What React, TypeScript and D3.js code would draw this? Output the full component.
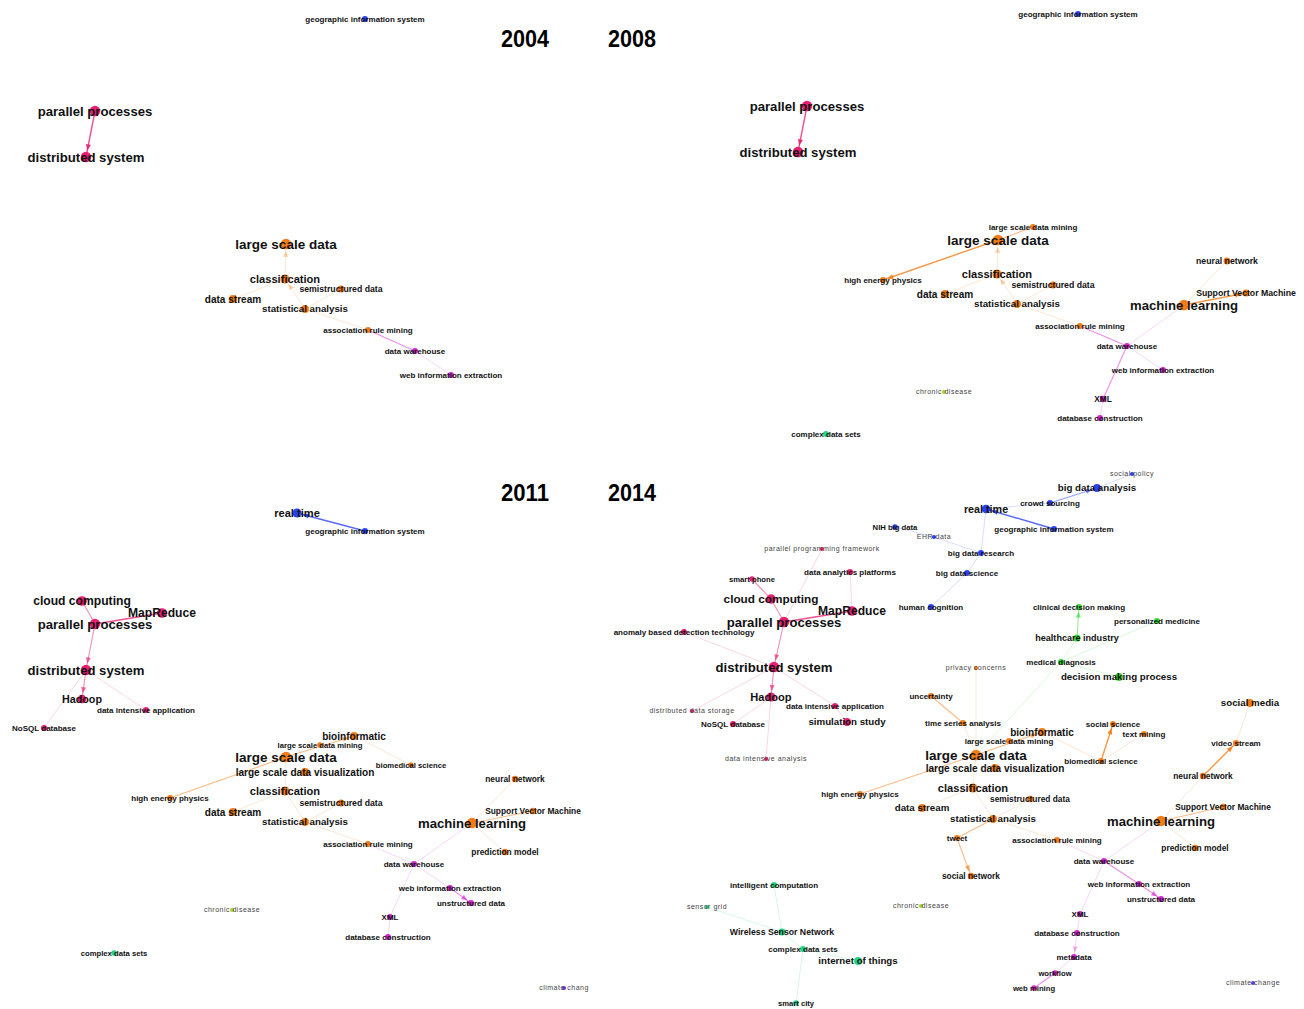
import * as React from 'react';
import * as d3 from 'd3';

// node rows: [keyword, layoutX, layoutY, weight, cluster]
type NodeRow = [string, number, number, number, string];
// link rows: [source, target, strength, directed]
type LinkRow = [string, string, number, number];

const clusters = ['pink', 'orange', 'magenta', 'blue', 'green', 'teal', 'lime', 'purple'];
const clusterColors = ['#ea1f72', '#f47c16', '#d624d0', '#2b42f2', '#35dc35', '#22d582', '#a8d81c', '#6a38e2'];

const years = ['2004', '2008', '2011', '2014'];

const nodes2004: NodeRow[] = [
  ['geographic information system', 365, 19, 4, 'blue'],
  ['parallel processes', 95, 111, 19, 'pink'],
  ['distributed system', 86, 157, 19, 'pink'],
  ['large scale data', 286, 244, 20, 'orange'],
  ['classification', 285, 279, 13, 'orange'],
  ['semistructured data', 341, 289, 6, 'orange'],
  ['data stream', 233, 299, 10, 'orange'],
  ['statistical analysis', 305, 309, 9, 'orange'],
  ['association rule mining', 368, 330, 4, 'orange'],
  ['data warehouse', 415, 351, 4, 'magenta'],
  ['web information extraction', 451, 375, 4, 'magenta'],
];

const links2004: LinkRow[] = [
  ['parallel processes', 'distributed system', 3, 1],
  ['classification', 'large scale data', 1, 1],
  ['classification', 'data stream', 1, 0],
  ['statistical analysis', 'classification', 1, 1],
  ['statistical analysis', 'semistructured data', 1, 0],
  ['statistical analysis', 'association rule mining', 1, 0],
  ['data warehouse', 'association rule mining', 2, 0],
  ['data warehouse', 'web information extraction', 1, 0],
];

const nodes2008: NodeRow[] = [
  ['geographic information system', 426, 14, 4, 'blue'],
  ['parallel processes', 155, 106, 19, 'pink'],
  ['distributed system', 146, 152, 19, 'pink'],
  ['large scale data mining', 381, 227, 4, 'orange'],
  ['large scale data', 346, 240, 20, 'orange'],
  ['high energy physics', 231, 280, 4, 'orange'],
  ['classification', 345, 274, 13, 'orange'],
  ['semistructured data', 401, 285, 6, 'orange'],
  ['data stream', 293, 294, 10, 'orange'],
  ['statistical analysis', 365, 304, 9, 'orange'],
  ['association rule mining', 428, 326, 4, 'orange'],
  ['data warehouse', 475, 346, 4, 'magenta'],
  ['web information extraction', 511, 370, 4, 'magenta'],
  ['XML', 451, 399, 5, 'magenta'],
  ['database construction', 448, 418, 4, 'magenta'],
  ['neural network', 575, 261, 6, 'orange'],
  ['Support Vector Machine', 594, 293, 6, 'orange'],
  ['machine learning', 532, 305, 19, 'orange'],
  ['chronic disease', 292, 392, 1, 'lime'],
  ['complex data sets', 174, 434, 4, 'teal'],
];

const links2008: LinkRow[] = [
  ['parallel processes', 'distributed system', 3, 1],
  ['large scale data', 'high energy physics', 3, 1],
  ['large scale data', 'large scale data mining', 2, 0],
  ['classification', 'large scale data', 1, 1],
  ['classification', 'data stream', 1, 0],
  ['statistical analysis', 'classification', 1, 1],
  ['statistical analysis', 'semistructured data', 1, 0],
  ['statistical analysis', 'association rule mining', 1, 0],
  ['data warehouse', 'association rule mining', 2, 0],
  ['data warehouse', 'machine learning', 1, 0],
  ['data warehouse', 'web information extraction', 1, 0],
  ['data warehouse', 'XML', 2, 0],
  ['XML', 'database construction', 1, 0],
  ['machine learning', 'neural network', 1, 0],
  ['machine learning', 'Support Vector Machine', 3, 1],
];

const nodes2011: NodeRow[] = [
  ['real time', 297, 48, 13, 'blue'],
  ['geographic information system', 365, 66, 4, 'blue'],
  ['cloud computing', 82, 136, 16, 'pink'],
  ['MapReduce', 162, 148, 16, 'pink'],
  ['parallel processes', 95, 159, 19, 'pink'],
  ['distributed system', 86, 205, 19, 'pink'],
  ['Hadoop', 82, 234, 12, 'pink'],
  ['data intensive application', 146, 245, 4, 'pink'],
  ['NoSQL database', 44, 263, 4, 'pink'],
  ['bioinformatic', 354, 271, 10, 'orange'],
  ['large scale data mining', 320, 280, 3, 'orange'],
  ['large scale data', 286, 292, 20, 'orange'],
  ['large scale data visualization', 305, 307, 10, 'orange'],
  ['biomedical science', 411, 300, 3, 'orange'],
  ['neural network', 515, 314, 5, 'orange'],
  ['high energy physics', 170, 333, 4, 'orange'],
  ['classification', 285, 326, 13, 'orange'],
  ['semistructured data', 341, 338, 6, 'orange'],
  ['data stream', 233, 347, 10, 'orange'],
  ['statistical analysis', 305, 357, 9, 'orange'],
  ['Support Vector Machine', 533, 346, 5, 'orange'],
  ['machine learning', 472, 358, 19, 'orange'],
  ['association rule mining', 368, 379, 4, 'orange'],
  ['prediction model', 505, 387, 5, 'orange'],
  ['data warehouse', 414, 399, 4, 'magenta'],
  ['web information extraction', 450, 423, 4, 'magenta'],
  ['unstructured data', 471, 438, 4, 'magenta'],
  ['chronic disease', 232, 445, 1, 'lime'],
  ['XML', 390, 452, 4, 'magenta'],
  ['database construction', 388, 472, 4, 'magenta'],
  ['complex data sets', 114, 488, 3, 'teal'],
  ['climate chang', 564, 523, 1, 'purple'],
];

const links2011: LinkRow[] = [
  ['geographic information system', 'real time', 3, 1],
  ['MapReduce', 'parallel processes', 3, 0],
  ['cloud computing', 'parallel processes', 2, 0],
  ['parallel processes', 'distributed system', 2, 1],
  ['distributed system', 'Hadoop', 2, 1],
  ['distributed system', 'NoSQL database', 1, 0],
  ['distributed system', 'data intensive application', 1, 0],
  ['large scale data', 'bioinformatic', 2, 1],
  ['large scale data', 'high energy physics', 2, 0],
  ['bioinformatic', 'biomedical science', 1, 0],
  ['classification', 'large scale data', 1, 0],
  ['classification', 'data stream', 1, 0],
  ['statistical analysis', 'classification', 1, 0],
  ['statistical analysis', 'semistructured data', 1, 0],
  ['statistical analysis', 'association rule mining', 1, 0],
  ['data warehouse', 'association rule mining', 1, 0],
  ['data warehouse', 'machine learning', 1, 0],
  ['machine learning', 'neural network', 1, 0],
  ['machine learning', 'Support Vector Machine', 2, 0],
  ['machine learning', 'prediction model', 1, 0],
  ['data warehouse', 'web information extraction', 1, 0],
  ['web information extraction', 'unstructured data', 2, 1],
  ['data warehouse', 'XML', 1, 0],
  ['XML', 'database construction', 1, 0],
];

const nodes2014: NodeRow[] = [
  ['social policy', 480, 9, 1, 'blue'],
  ['big data analysis', 445, 23, 9, 'blue'],
  ['crowd sourcing', 398, 38, 4, 'blue'],
  ['real time', 334, 44, 12, 'blue'],
  ['geographic information system', 402, 64, 4, 'blue'],
  ['NIH big data', 243, 62, 3, 'blue'],
  ['EHR data', 282, 72, 1, 'blue'],
  ['big data research', 329, 88, 4, 'blue'],
  ['parallel programming framework', 170, 84, 1, 'pink'],
  ['data analytics platforms', 198, 107, 4, 'pink'],
  ['big data science', 315, 108, 4, 'blue'],
  ['smart phone', 100, 114, 3, 'pink'],
  ['cloud computing', 119, 134, 15, 'pink'],
  ['MapReduce', 200, 146, 16, 'pink'],
  ['parallel processes', 132, 157, 19, 'pink'],
  ['human cognition', 279, 142, 4, 'blue'],
  ['anomaly based detection technology', 32, 167, 4, 'pink'],
  ['clinical decision making', 427, 142, 4, 'green'],
  ['personalized medicine', 505, 156, 4, 'green'],
  ['healthcare industry', 425, 173, 7, 'green'],
  ['medical diagnosis', 409, 197, 4, 'green'],
  ['distributed system', 122, 202, 19, 'pink'],
  ['privacy concerns', 324, 203, 1, 'orange'],
  ['decision making process', 467, 212, 9, 'green'],
  ['Hadoop', 119, 232, 13, 'pink'],
  ['uncertainty', 279, 231, 4, 'orange'],
  ['social media', 598, 238, 9, 'orange'],
  ['distributed data storage', 40, 246, 1, 'pink'],
  ['data intensive application', 183, 241, 4, 'pink'],
  ['NoSQL database', 81, 259, 4, 'pink'],
  ['simulation study', 195, 257, 9, 'pink'],
  ['time series analysis', 311, 258, 4, 'orange'],
  ['social science', 461, 259, 4, 'orange'],
  ['bioinformatic', 390, 267, 10, 'orange'],
  ['text mining', 492, 269, 4, 'orange'],
  ['large scale data mining', 357, 276, 4, 'orange'],
  ['video stream', 584, 278, 4, 'orange'],
  ['large scale data', 324, 290, 20, 'orange'],
  ['data intensive analysis', 114, 294, 1, 'pink'],
  ['biomedical science', 449, 296, 4, 'orange'],
  ['large scale data visualization', 343, 303, 10, 'orange'],
  ['neural network', 551, 311, 5, 'orange'],
  ['classification', 321, 323, 13, 'orange'],
  ['high energy physics', 208, 329, 4, 'orange'],
  ['semistructured data', 378, 334, 5, 'orange'],
  ['data stream', 270, 343, 9, 'orange'],
  ['Support Vector Machine', 571, 342, 5, 'orange'],
  ['statistical analysis', 341, 354, 9, 'orange'],
  ['machine learning', 509, 356, 19, 'orange'],
  ['tweet', 305, 373, 4, 'orange'],
  ['association rule mining', 405, 375, 4, 'orange'],
  ['prediction model', 543, 383, 5, 'orange'],
  ['data warehouse', 452, 396, 4, 'magenta'],
  ['social network', 319, 411, 5, 'orange'],
  ['web information extraction', 487, 419, 4, 'magenta'],
  ['intelligent computation', 122, 420, 4, 'teal'],
  ['unstructured data', 509, 434, 4, 'magenta'],
  ['chronic disease', 269, 441, 1, 'lime'],
  ['sensor grid', 55, 442, 1, 'teal'],
  ['XML', 428, 449, 4, 'magenta'],
  ['Wireless Sensor Network', 130, 467, 6, 'teal'],
  ['database construction', 425, 468, 4, 'magenta'],
  ['complex data sets', 151, 484, 4, 'teal'],
  ['metadata', 422, 492, 4, 'magenta'],
  ['internet of things', 206, 496, 9, 'teal'],
  ['workflow', 403, 508, 3, 'magenta'],
  ['web mining', 382, 523, 3, 'magenta'],
  ['smart city', 144, 538, 3, 'teal'],
  ['climate change', 601, 518, 1, 'purple'],
];

const links2014: LinkRow[] = [
  ['social policy', 'big data analysis', 1, 0],
  ['crowd sourcing', 'big data analysis', 2, 1],
  ['crowd sourcing', 'real time', 1, 0],
  ['geographic information system', 'real time', 3, 1],
  ['real time', 'big data research', 1, 0],
  ['NIH big data', 'EHR data', 1, 0],
  ['EHR data', 'big data research', 1, 0],
  ['big data research', 'big data science', 1, 0],
  ['big data science', 'human cognition', 1, 0],
  ['smart phone', 'cloud computing', 2, 0],
  ['cloud computing', 'parallel processes', 2, 0],
  ['parallel programming framework', 'parallel processes', 1, 0],
  ['data analytics platforms', 'MapReduce', 1, 0],
  ['MapReduce', 'parallel processes', 3, 0],
  ['parallel processes', 'distributed system', 2, 1],
  ['anomaly based detection technology', 'distributed system', 1, 0],
  ['distributed system', 'Hadoop', 2, 1],
  ['distributed system', 'distributed data storage', 1, 0],
  ['distributed system', 'data intensive application', 1, 0],
  ['data intensive application', 'simulation study', 1, 0],
  ['Hadoop', 'NoSQL database', 1, 0],
  ['Hadoop', 'data intensive analysis', 1, 0],
  ['healthcare industry', 'clinical decision making', 2, 1],
  ['healthcare industry', 'medical diagnosis', 1, 0],
  ['medical diagnosis', 'personalized medicine', 1, 0],
  ['medical diagnosis', 'decision making process', 1, 0],
  ['medical diagnosis', 'large scale data', 1, 0],
  ['privacy concerns', 'large scale data', 1, 0],
  ['uncertainty', 'time series analysis', 2, 0],
  ['time series analysis', 'large scale data', 1, 0],
  ['large scale data', 'bioinformatic', 2, 1],
  ['bioinformatic', 'biomedical science', 1, 0],
  ['biomedical science', 'social science', 3, 1],
  ['biomedical science', 'text mining', 1, 0],
  ['large scale data', 'high energy physics', 2, 0],
  ['large scale data', 'classification', 1, 0],
  ['classification', 'data stream', 1, 0],
  ['classification', 'statistical analysis', 1, 0],
  ['statistical analysis', 'semistructured data', 1, 0],
  ['statistical analysis', 'tweet', 2, 0],
  ['tweet', 'social network', 2, 1],
  ['statistical analysis', 'association rule mining', 1, 0],
  ['machine learning', 'neural network', 1, 0],
  ['neural network', 'video stream', 3, 1],
  ['video stream', 'social media', 1, 0],
  ['machine learning', 'Support Vector Machine', 2, 0],
  ['machine learning', 'prediction model', 1, 0],
  ['data warehouse', 'association rule mining', 1, 0],
  ['data warehouse', 'machine learning', 1, 0],
  ['data warehouse', 'web information extraction', 2, 0],
  ['web information extraction', 'unstructured data', 2, 1],
  ['data warehouse', 'XML', 1, 0],
  ['XML', 'database construction', 1, 0],
  ['database construction', 'metadata', 1, 1],
  ['metadata', 'workflow', 1, 0],
  ['workflow', 'web mining', 2, 0],
  ['intelligent computation', 'Wireless Sensor Network', 1, 0],
  ['sensor grid', 'Wireless Sensor Network', 1, 0],
  ['Wireless Sensor Network', 'complex data sets', 1, 0],
  ['complex data sets', 'internet of things', 1, 0],
  ['complex data sets', 'smart city', 1, 0],
];

const W = 1304;
const H = 1009;
const FONT = '"Liberation Sans", Arial, sans-serif';

const panels = [
  { year: years[0], nodes: nodes2004, links: links2004, ox: 0, oy: 0, yearX: 525, yearY: 47 },
  { year: years[1], nodes: nodes2008, links: links2008, ox: 652, oy: 0, yearX: -20, yearY: 47 },
  { year: years[2], nodes: nodes2011, links: links2011, ox: 0, oy: 465, yearX: 525, yearY: 36 },
  { year: years[3], nodes: nodes2014, links: links2014, ox: 652, oy: 465, yearX: -20, yearY: 36 },
];

const color = d3.scaleOrdinal<string, string>().domain(clusters).range(clusterColors);
const fontScale = d3.scaleLinear().domain([1, 20]).range([7, 13.5]);
const radius = d3.scaleSqrt().domain([1, 20]).range([2.1, 5.3]);
const linkOpacity = d3.scaleLinear().domain([1, 3]).range([0.22, 0.78]);
const linkWidth = d3.scaleLinear().domain([1, 3]).range([0.8, 1.4]);

const Panel = ({ p }: { p: typeof panels[number] }) => {
  const x = d3.scaleLinear().domain([0, 652]).range([p.ox, p.ox + 652]);
  const y = d3.scaleLinear().domain([0, 545]).range([p.oy, p.oy + 545]);
  const byName = new Map(p.nodes.map(n => [n[0], n]));

  return (
    <g>
      {p.links.map(([s, t, str, dir], i) => {
        const a = byName.get(s)!;
        const b = byName.get(t)!;
        const x1 = x(a[1]), y1 = y(a[2]), x2 = x(b[1]), y2 = y(b[2]);
        const c = color(a[4]);
        const len = Math.hypot(x2 - x1, y2 - y1) || 1;
        const ux = (x2 - x1) / len, uy = (y2 - y1) / len;
        let head = null;
        if (dir) {
          const r = radius(b[3]) + 1.5;
          const tx = x2 - ux * r, ty = y2 - uy * r;
          const bx = tx - ux * 6, by = ty - uy * 6;
          head = (
            <path
              d={`M${tx},${ty}L${bx - uy * 2.5},${by + ux * 2.5}L${bx + uy * 2.5},${by - ux * 2.5}Z`}
              fill={c}
              opacity={Math.min(1, linkOpacity(str) + 0.15)}
            />
          );
        }
        return (
          <g key={'l' + i}>
            <line x1={x1} y1={y1} x2={x2} y2={y2} stroke={c} strokeWidth={linkWidth(str)} opacity={linkOpacity(str)} />
            {head}
          </g>
        );
      })}
      {p.nodes.map(n => (
        <circle key={'c' + n[0]} cx={x(n[1])} cy={y(n[2])} r={radius(n[3])} fill={color(n[4])} />
      ))}
      {p.nodes.map(n => {
        const minor = n[3] <= 1;
        return (
          <text
            key={'t' + n[0]}
            x={x(n[1])}
            y={y(n[2])}
            dy="0.35em"
            textAnchor="middle"
            fontFamily={FONT}
            fontSize={minor ? 7 : fontScale(n[3])}
            fontWeight={minor ? 'normal' : 'bold'}
            letterSpacing={minor ? 0.5 : 0}
            fill={minor ? '#444' : '#111'}
          >
            {n[0]}
          </text>
        );
      })}
      <text
        x={p.ox + p.yearX}
        y={p.oy + p.yearY}
        textAnchor="middle"
        fontFamily={FONT}
        fontSize={24}
        fontWeight="bold"
        textLength={48}
        lengthAdjust="spacingAndGlyphs"
        fill="#000"
      >
        {p.year}
      </text>
    </g>
  );
};

export default function App() {
  return (
    <svg
      width={W}
      height={H}
      style={{ position: 'absolute', left: 0, top: 0, background: '#fff' }}
    >
      {panels.map(p => (
        <Panel key={p.year} p={p} />
      ))}
    </svg>
  );
}
